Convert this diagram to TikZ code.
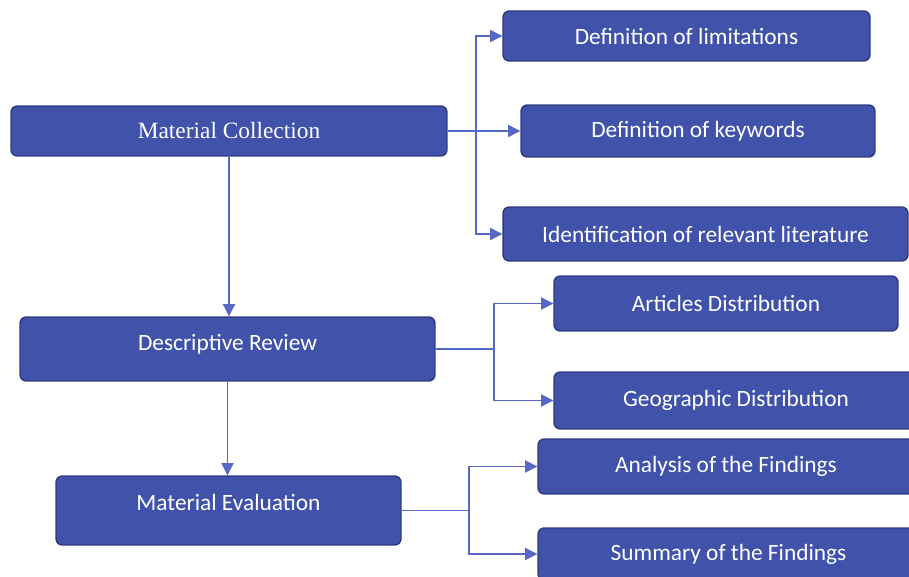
\documentclass[tikz,border=0pt]{standalone}
\usepackage{fontspec}
\setmainfont{Carlito}
\newfontfamily\timesfont{Liberation Serif}
\usetikzlibrary{arrows.meta}
\definecolor{boxblue}{RGB}{64,82,170}
\definecolor{boxedge}{RGB}{46,58,126}
\definecolor{linkblue}{RGB}{86,104,196}
\tikzstyle{block}=[rectangle, rounded corners=3.5pt, draw=boxedge, line width=0.8pt, fill=boxblue, text=white, inner sep=0pt, font=\fontsize{13.3}{15}\selectfont]
\tikzstyle{link}=[-{Triangle[length=7pt,width=7pt]}, draw=linkblue, line width=0.6pt]
\tikzstyle{wire}=[-, draw=linkblue, line width=0.6pt]
\begin{document}
\begin{tikzpicture}[x=0.02cm,y=-0.02cm]
				\useasboundingbox (0,0) rectangle (909,577);
				
				%The main steps
				\draw (229,131) node[block, minimum width=8.72cm, minimum height=1cm, font=\timesfont\fontsize{13.3}{15}\selectfont] (mc) {Material Collection};
				\draw (227.5,349) node[block, minimum width=8.3cm, minimum height=1.28cm, text depth=7.6pt] (dr) {Descriptive Review};
				\draw (228.5,510.5) node[block, minimum width=6.9cm, minimum height=1.38cm, text depth=9.8pt] (me) {Material Evaluation};
				
				\draw[link] (mc.south) -- (mc.south |- dr.north);
				\draw[link] (dr.south) -- (dr.south |- me.north);
				
				%The collection branches
				\draw (686.5,36) node[block, minimum width=7.34cm, minimum height=1cm] (lim) {Definition of limitations};
				\draw (698,131) node[block, minimum width=7.08cm, minimum height=1.04cm] (key) {Definition of keywords};
				\draw (705.5,234) node[block, minimum width=8.1cm, minimum height=1.08cm] (lit) {Identification of relevant literature};
				
				\coordinate (mc-fork) at (476,131);
				\draw[link] (mc) -- (key);
				\draw[link] (mc-fork) |- (lim);
				\draw[link] (mc-fork) |- (lit);
				
				%The review branches
				\draw (726,303.5) node[block, minimum width=6.88cm, minimum height=1.1cm] (art) {Articles Distribution};
				\draw (736,400.5) node[block, minimum width=7.28cm, minimum height=1.14cm] (geo) {Geographic Distribution};
				
				\coordinate (dr-fork) at (494,349);
				\draw[wire] (dr) -- (dr-fork);
				\draw[link] (dr-fork) |- (art);
				\draw[link] (dr-fork) |- (geo);
				
				%The evaluation branches
				\draw (726,466.5) node[block, minimum width=7.52cm, minimum height=1.1cm] (ana) {Analysis of the Findings};
				\draw (728.5,554) node[block, minimum width=7.62cm, minimum height=1.04cm] (sum) {Summary of the Findings};
				
				\coordinate (me-fork) at (469,510.5);
				\draw[wire] (me) -- (me-fork);
				\draw[link] (me-fork) |- (ana);
				\draw[link] (me-fork) |- (sum);
\end{tikzpicture}
\end{document}
